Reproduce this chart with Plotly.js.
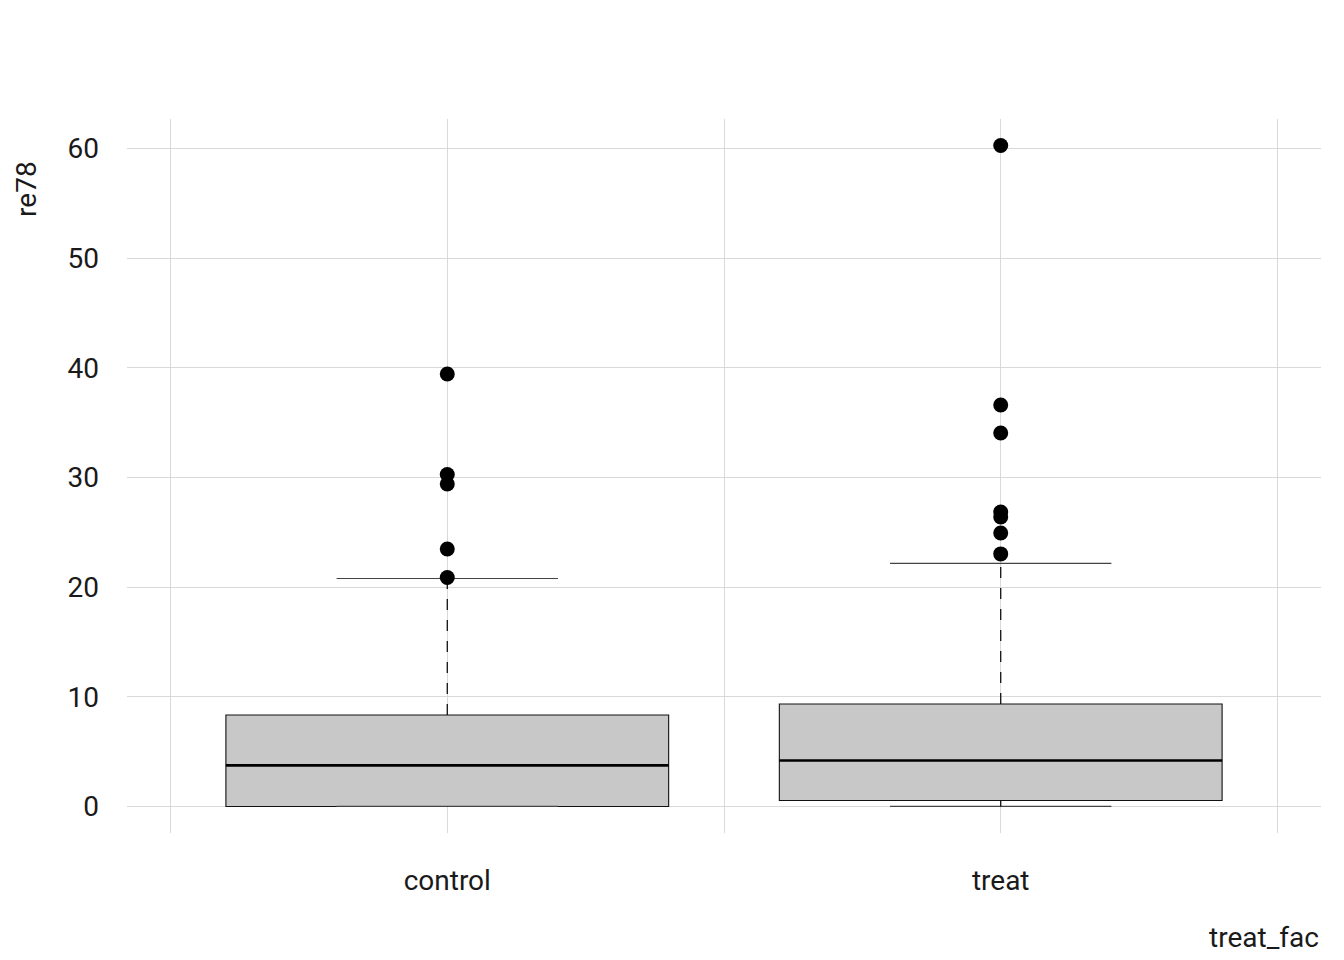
<!DOCTYPE html>
<html>
<head>
<meta charset="utf-8">
<script src="https://cdn.plot.ly/plotly-3.0.1.min.js"></script>
<style>
  html, body { margin: 0; padding: 0; background: #ffffff; }
  #chart { width: 1344px; height: 960px; }
</style>
</head>
<body>
<div id="chart"></div>
<script>
// ---- data ----
const categories = ['control', 'treat'];
const q1Values = [0, 0.55];
const medianValues = [3.74, 4.19];
const q3Values = [8.34, 9.35];
const lowerWhiskers = [0, 0];
const upperWhiskers = [20.79, 22.16];
const controlOutliers = [39.44, 30.27, 29.41, 23.48, 20.88];
const treatOutliers = [60.27, 36.61, 34.06, 26.85, 26.40, 24.94, 23.03];
const outlierSets = [controlOutliers, treatOutliers];

// ---- styling ----
const BOX_WIDTH = 0.8;
const CAP_HALF = BOX_WIDTH / 4;
const FONT = 'Roboto, "Roboto Condensed", "Liberation Sans", sans-serif';
const positions = categories.map((c, i) => i + 1);

const traces = [];

// whisker caps (drawn first, under boxes and points)
const capX = [], capY = [];
positions.forEach((p, i) => {
  capX.push(p - CAP_HALF, p + CAP_HALF, null, p - CAP_HALF, p + CAP_HALF, null);
  capY.push(upperWhiskers[i], upperWhiskers[i], null, lowerWhiskers[i], lowerWhiskers[i], null);
});
traces.push({
  type: 'scatter', mode: 'lines', x: capX, y: capY,
  line: { color: '#444444', width: 1.2 }, hoverinfo: 'skip', showlegend: false
});

// boxes (no whiskers: fences equal quartiles)
positions.forEach((p, i) => {
  traces.push({
    type: 'box', x: [p], q1: [q1Values[i]], median: [medianValues[i]], q3: [q3Values[i]],
    lowerfence: [q1Values[i]], upperfence: [q3Values[i]],
    width: BOX_WIDTH, whiskerwidth: 0, boxpoints: false,
    fillcolor: '#C8C8C8', line: { color: '#111111', width: 1.1 },
    name: categories[i], showlegend: false, hoverinfo: 'skip'
  });
});

// median lines (thicker)
const medX = [], medY = [];
positions.forEach((p, i) => {
  medX.push(p - BOX_WIDTH / 2, p + BOX_WIDTH / 2, null);
  medY.push(medianValues[i], medianValues[i], null);
});
traces.push({
  type: 'scatter', mode: 'lines', x: medX, y: medY,
  line: { color: '#000000', width: 2.7 }, hoverinfo: 'skip', showlegend: false
});

// upper whiskers (dashed) and lower whiskers (solid)
const upX = [], upY = [], loX = [], loY = [];
positions.forEach((p, i) => {
  upX.push(p, p, null); upY.push(q3Values[i], upperWhiskers[i], null);
  loX.push(p, p, null); loY.push(q1Values[i], lowerWhiskers[i], null);
});
traces.push({
  type: 'scatter', mode: 'lines', x: upX, y: upY,
  line: { color: '#111111', width: 1.3, dash: '11px,10px' }, hoverinfo: 'skip', showlegend: false
});
traces.push({
  type: 'scatter', mode: 'lines', x: loX, y: loY,
  line: { color: '#111111', width: 1.3 }, hoverinfo: 'skip', showlegend: false
});

// outliers
const outX = [], outY = [];
positions.forEach((p, i) => {
  outlierSets[i].forEach(v => { outX.push(p); outY.push(v); });
});
traces.push({
  type: 'scatter', mode: 'markers', x: outX, y: outY,
  marker: { color: '#000000', size: 15, line: { width: 0 } },
  hoverinfo: 'skip', showlegend: false
});

const layout = {
  width: 1344, height: 960,
  paper_bgcolor: '#ffffff', plot_bgcolor: '#ffffff',
  margin: { l: 127, r: 23, t: 119, b: 127, pad: 0 },
  showlegend: false,
  font: { family: FONT, size: 28, color: '#1a1a1a' },
  xaxis: {
    type: 'linear',
    range: [0.4213, 2.5787],
    tickmode: 'array',
    tickvals: [0.5, 1, 1.5, 2, 2.5],
    ticktext: ['', categories[0], '', categories[1], ''],
    showgrid: true, gridcolor: '#d9d9d9', gridwidth: 1,
    zeroline: false, showline: false, ticks: '',
    ticklabelstandoff: 28,
    tickfont: { family: FONT, size: 28, color: '#1a1a1a' }
  },
  yaxis: {
    range: [-2.42, 62.69],
    tickmode: 'linear', tick0: 0, dtick: 10,
    showgrid: true, gridcolor: '#d9d9d9', gridwidth: 1,
    zeroline: false, showline: false, ticks: '',
    ticklabelstandoff: 27,
    tickfont: { family: FONT, size: 28, color: '#1a1a1a' }
  },
  annotations: [
    {
      text: 're78', xref: 'paper', yref: 'paper',
      x: -0.0838, y: 0.944, xanchor: 'center', yanchor: 'top',
      textangle: -90, showarrow: false,
      font: { family: FONT, size: 28, color: '#1a1a1a' }
    },
    {
      text: 'treat_fac', xref: 'paper', yref: 'paper',
      x: 1.0, y: -0.147, xanchor: 'right', yanchor: 'middle',
      showarrow: false,
      font: { family: FONT, size: 28, color: '#1a1a1a' }
    }
  ]
};

Plotly.newPlot('chart', traces, layout, { displayModeBar: false, staticPlot: true });
</script>
</body>
</html>
